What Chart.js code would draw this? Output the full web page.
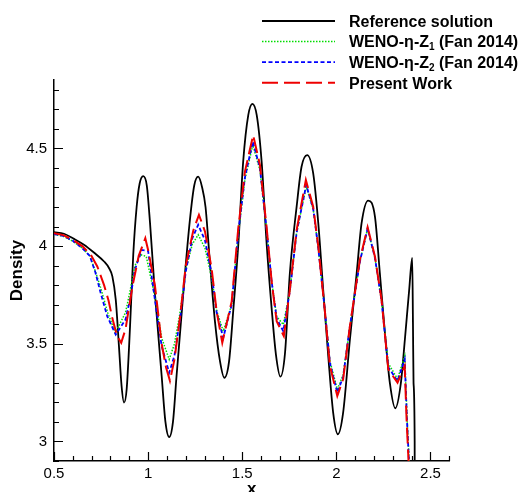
<!DOCTYPE html>
<html>
<head>
<meta charset="utf-8">
<script src="https://cdn.jsdelivr.net/npm/chart.js@4"></script>
<style>
  html, body { margin: 0; padding: 0; background: #fff; overflow: hidden; }
  #wrap { position: relative; width: 527px; height: 506px; }
</style>
</head>
<body>
<div id="wrap"><canvas id="density"></canvas></div>
<script>
// Reference solution (fine grid)
const refX = [0.5, 0.553, 0.606, 0.659, 0.712, 0.766, 0.792, 0.81, 0.828, 0.845, 0.859, 0.872, 0.886, 0.904, 0.921,
  0.939, 0.955, 0.974, 0.993, 1.01, 1.036, 1.072, 1.092, 1.112, 1.132, 1.151, 1.187, 1.222, 1.245, 1.266,
  1.287, 1.305, 1.328, 1.355, 1.382, 1.405, 1.43, 1.452, 1.479, 1.505, 1.532, 1.554, 1.577, 1.603, 1.63,
  1.656, 1.679, 1.703, 1.727, 1.753, 1.789, 1.815, 1.845, 1.877, 1.904, 1.93, 1.957, 1.983, 2.008, 2.036,
  2.072, 2.108, 2.134, 2.169, 2.205, 2.231, 2.258, 2.284, 2.313, 2.343, 2.364, 2.387, 2.403, 2.407, 2.41,
  2.416, 2.417];
const refY = [4.071, 4.063, 4.037, 4.007, 3.967, 3.921, 3.888, 3.845, 3.726, 3.488, 3.284, 3.199, 3.267, 3.59, 3.956,
  4.2, 4.32, 4.358, 4.31, 4.12, 3.76, 3.335, 3.1, 3.022, 3.1, 3.335, 3.76, 4.134, 4.31, 4.355,
  4.3, 4.2, 3.92, 3.615, 3.41, 3.326, 3.41, 3.666, 4.007, 4.432, 4.67, 4.728, 4.67, 4.432, 4.007,
  3.684, 3.445, 3.332, 3.45, 3.862, 4.202, 4.406, 4.466, 4.372, 4.117, 3.777, 3.437, 3.148, 3.037, 3.148,
  3.522, 3.862, 4.117, 4.233, 4.151, 3.862, 3.556, 3.301, 3.17, 3.301, 3.522, 3.777, 3.94, 3.6, 3.3,
  3.0, 2.0];

// WENO-eta-Z1
const z1X = [0.5, 0.55, 0.6, 0.65, 0.69, 0.72, 0.75, 0.785, 0.826, 0.88, 0.904, 0.93, 0.96, 0.99, 1.036,
  1.072, 1.112, 1.14, 1.17, 1.2, 1.235, 1.266, 1.302, 1.337, 1.364, 1.399, 1.444, 1.479, 1.514, 1.556,
  1.594, 1.63, 1.656, 1.683, 1.718, 1.753, 1.789, 1.84, 1.877, 1.904, 1.94, 1.966, 2.005, 2.036, 2.072,
  2.125, 2.166, 2.205, 2.24, 2.276, 2.325, 2.363, 2.376, 2.389, 2.393];
const z1Y = [4.06, 4.05, 4.025, 3.99, 3.95, 3.87, 3.78, 3.66, 3.556, 3.66, 3.77, 3.9, 3.956, 3.947, 3.74,
  3.53, 3.42, 3.5, 3.66, 3.88, 4.01, 4.058, 3.99, 3.84, 3.67, 3.564, 3.7, 4.06, 4.34, 4.517,
  4.39, 4.08, 3.82, 3.64, 3.598, 3.77, 4.07, 4.304, 4.19, 3.99, 3.66, 3.41, 3.267, 3.34, 3.59,
  3.92, 4.09, 3.94, 3.72, 3.4, 3.32, 3.437, 3.114, 2.85, 2.0];

// WENO-eta-Z2
const z2X = [0.5, 0.55, 0.6, 0.65, 0.69, 0.72, 0.748, 0.783, 0.828, 0.88, 0.904, 0.93, 0.966, 1.0, 1.036,
  1.072, 1.112, 1.14, 1.17, 1.2, 1.235, 1.266, 1.302, 1.337, 1.364, 1.399, 1.444, 1.479, 1.514, 1.556,
  1.594, 1.63, 1.656, 1.683, 1.718, 1.753, 1.789, 1.84, 1.877, 1.904, 1.94, 1.966, 2.005, 2.036, 2.072,
  2.125, 2.166, 2.205, 2.24, 2.276, 2.325, 2.363, 2.375, 2.388, 2.392];
const z2Y = [4.062, 4.052, 4.027, 3.99, 3.95, 3.865, 3.76, 3.64, 3.547, 3.624, 3.726, 3.88, 3.98, 3.975, 3.726,
  3.488, 3.352, 3.44, 3.63, 3.87, 4.04, 4.109, 4.03, 3.86, 3.66, 3.531, 3.7, 4.07, 4.35, 4.534,
  4.4, 4.08, 3.82, 3.63, 3.564, 3.77, 4.07, 4.313, 4.19, 3.99, 3.66, 3.4, 3.25, 3.33, 3.59,
  3.92, 4.09, 3.94, 3.72, 3.38, 3.309, 3.42, 3.114, 2.85, 2.0];

// Present work
const pwX = [0.5, 0.55, 0.6, 0.65, 0.695, 0.73, 0.766, 0.79, 0.81, 0.835, 0.857, 0.88, 0.916, 0.95, 0.985,
  1.0, 1.036, 1.072, 1.095, 1.116, 1.14, 1.17, 1.2, 1.24, 1.27, 1.302, 1.337, 1.364, 1.394, 1.444,
  1.479, 1.514, 1.558, 1.594, 1.63, 1.656, 1.683, 1.721, 1.753, 1.789, 1.838, 1.877, 1.904, 1.94, 1.966,
  2.005, 2.036, 2.072, 2.125, 2.166, 2.205, 2.24, 2.276, 2.325, 2.363, 2.373, 2.386, 2.39];
const pwY = [4.066, 4.056, 4.032, 4.0, 3.956, 3.896, 3.8, 3.72, 3.63, 3.54, 3.505, 3.575, 3.79, 3.95, 4.04,
  3.98, 3.8, 3.5, 3.38, 3.31, 3.42, 3.64, 3.9, 4.08, 4.16, 4.075, 3.888, 3.666, 3.505, 3.717,
  4.092, 4.38, 4.568, 4.415, 4.092, 3.82, 3.615, 3.539, 3.777, 4.083, 4.338, 4.202, 3.998, 3.658, 3.386,
  3.233, 3.318, 3.59, 3.93, 4.097, 3.947, 3.726, 3.369, 3.301, 3.386, 3.114, 2.85, 2.0];

const seriesLabels = ['Reference solution', 'WENO-η-Z₁ (Fan 2014)', 'WENO-η-Z₂ (Fan 2014)', 'Present Work'];
const xTickLabels = ['0.5', '1', '1.5', '2', '2.5'];
const yTickLabels = ['3', '3.5', '4', '4.5'];

const FONT = "'Liberation Sans', Arial, sans-serif";

const toPoints = (xs, ys) => xs.map((x, i) => ({ x, y: ys[i] }));

// inward major/minor tick marks along both axes
const innerTicks = {
  id: 'innerTicks',
  afterDraw(chart) {
    const { ctx, scales: { x, y } } = chart;
    ctx.save();
    ctx.strokeStyle = '#000';
    ctx.lineWidth = 1.2;
    ctx.beginPath();
    for (let i = Math.ceil(x.min * 10 - 1e-6); i <= Math.floor(x.max * 10 + 1e-6); i++) {
      const px = Math.round(x.getPixelForValue(i / 10)) + 0.5;
      const len = i % 5 === 0 ? 9 : 5;
      ctx.moveTo(px, x.top);
      ctx.lineTo(px, x.top - len);
    }
    for (let i = Math.ceil(y.min * 10 - 1e-6); i <= Math.floor(y.max * 10 + 1e-6); i++) {
      const py = Math.round(y.getPixelForValue(i / 10)) + 0.5;
      const len = i % 5 === 0 ? 9 : 5;
      ctx.moveTo(y.right, py);
      ctx.lineTo(y.right + len, py);
    }
    ctx.stroke();
    ctx.restore();
  }
};

// legend in the top right, with subscript digits
const SUBS = { '₀': '0', '₁': '1', '₂': '2', '₃': '3' };
const seriesLegend = {
  id: 'seriesLegend',
  afterDraw(chart, args, opts) {
    const ctx = chart.ctx;
    chart.data.datasets.forEach((ds, i) => {
      const cy = opts.top + i * opts.rowGap;
      ctx.save();
      ctx.strokeStyle = ds.borderColor;
      ctx.lineWidth = ds.borderWidth;
      ctx.setLineDash(ds.borderDash || []);
      ctx.beginPath();
      ctx.moveTo(opts.lineX0, cy);
      ctx.lineTo(opts.lineX1, cy);
      ctx.stroke();
      ctx.setLineDash([]);
      ctx.fillStyle = '#000';
      ctx.textBaseline = 'alphabetic';
      let tx = opts.textX;
      const base = cy + opts.size * 0.36;
      for (const ch of ds.label) {
        if (SUBS[ch]) {
          ctx.font = `bold ${opts.subSize}px ${FONT}`;
          ctx.fillText(SUBS[ch], tx, base + 3);
          tx += ctx.measureText(SUBS[ch]).width;
        } else {
          ctx.font = `bold ${opts.size}px ${FONT}`;
          ctx.fillText(ch, tx, base);
          tx += ctx.measureText(ch).width;
        }
      }
      ctx.restore();
    });
  }
};

new Chart(document.getElementById('density'), {
  type: 'line',
  data: {
    datasets: [
      {
        label: seriesLabels[0],
        data: toPoints(refX, refY),
        borderColor: '#000000',
        borderWidth: 1.8,
        cubicInterpolationMode: 'monotone',
        order: 4
      },
      {
        label: seriesLabels[1],
        data: toPoints(z1X, z1Y),
        borderColor: '#00dd00',
        borderWidth: 1.5,
        borderDash: [1.5, 1.5],
        tension: 0,
        order: 3
      },
      {
        label: seriesLabels[2],
        data: toPoints(z2X, z2Y),
        borderColor: '#0000ff',
        borderWidth: 1.8,
        borderDash: [4, 2.5],
        tension: 0,
        order: 2
      },
      {
        label: seriesLabels[3],
        data: toPoints(pwX, pwY),
        borderColor: '#ee0000',
        borderWidth: 2,
        borderDash: [16, 6],
        tension: 0,
        order: 1
      }
    ]
  },
  options: {
    responsive: true,
    maintainAspectRatio: false,
    animation: false,
    events: [],
    layout: { padding: { left: 0, top: 80, right: 77.7, bottom: 0 } },
    elements: { point: { radius: 0 }, line: { borderCapStyle: 'butt' } },
    scales: {
      x: {
        type: 'linear',
        min: 0.5,
        max: 2.6,
        afterFit: (s) => { s.height = 45; },
        grid: { drawOnChartArea: false, drawTicks: false },
        border: { display: true, color: '#000', width: 1.5 },
        ticks: {
          stepSize: 0.5,
          includeBounds: false,
          padding: 4,
          color: '#000',
          font: { family: FONT, size: 15 },
          maxRotation: 0,
          callback: (v) => xTickLabels[Math.round((v - 0.5) / 0.5)]
        },
        title: {
          display: true,
          text: 'x',
          color: '#000',
          font: { family: FONT, size: 17, weight: 'bold' },
          padding: { top: 0, bottom: 6 }
        }
      },
      y: {
        type: 'linear',
        min: 2.9,
        max: 4.85,
        afterFit: (s) => { s.width = 54; },
        grid: { drawOnChartArea: false, drawTicks: false },
        border: { display: true, color: '#000', width: 1.5 },
        ticks: {
          stepSize: 0.5,
          includeBounds: false,
          padding: 7,
          color: '#000',
          font: { family: FONT, size: 15 },
          callback: (v) => yTickLabels[Math.round((v - 3) / 0.5)]
        },
        title: {
          display: true,
          text: 'Density',
          color: '#000',
          font: { family: FONT, size: 17, weight: 'bold' },
          padding: { top: 7, bottom: 0 }
        }
      }
    },
    plugins: {
      legend: { display: false },
      tooltip: { enabled: false },
      seriesLegend: { top: 21, rowGap: 20.6, lineX0: 262, lineX1: 335, textX: 349, size: 16, subSize: 10 }
    }
  },
  plugins: [innerTicks, seriesLegend]
});
</script>
</body>
</html>
